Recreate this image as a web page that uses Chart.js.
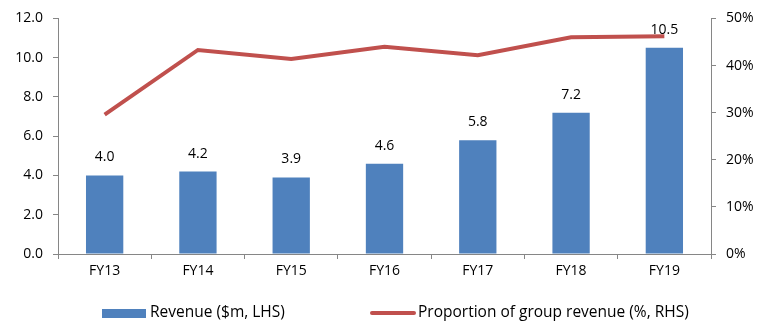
<!DOCTYPE html>
<html>
<head>
<meta charset="utf-8">
<script src="https://cdn.jsdelivr.net/npm/chart.js@4/dist/chart.umd.min.js"></script>
<style>
  html, body { margin: 0; padding: 0; background: #fff; }
  #wrap { width: 761px; height: 321px; position: relative; }
</style>
</head>
<body>
<div id="wrap"><canvas id="c" width="761" height="321"></canvas></div>
<script>
// Fiscal years on the category axis
const years = ['FY13', 'FY14', 'FY15', 'FY16', 'FY17', 'FY18', 'FY19'];
// Revenue, $m (left axis)
const revenue = [4.0, 4.2, 3.9, 4.6, 5.8, 7.2, 10.5];
// Share of group revenue, % (right axis)
const groupShare = [29.6, 43.3, 41.4, 44.0, 42.2, 46.0, 46.2];
// Axis ranges and steps
const leftMax = 12, leftStep = 2;
const rightMax = 50, rightStep = 10;

const FONT = "'Open Sans', 'Noto Sans', sans-serif";
const AXIS_GREY = '#868686';
const BLUE = '#4F81BD';
const RED = '#C0504D';

// Value labels above each bar
const barLabels = {
  id: 'barLabels',
  afterDatasetsDraw(chart) {
    const ctx = chart.ctx;
    const meta = chart.getDatasetMeta(0);
    ctx.save();
    ctx.font = '14px ' + FONT;
    ctx.fillStyle = '#000';
    ctx.textAlign = 'center';
    ctx.textBaseline = 'middle';
    meta.data.forEach((bar, i) => {
      ctx.fillText(revenue[i].toFixed(1), bar.x, bar.y - 18);
    });
    ctx.restore();
  }
};

// Legend row beneath the axis
const bottomLegend = {
  id: 'bottomLegend',
  afterDraw(chart) {
    const ctx = chart.ctx;
    const y = 313;
    ctx.save();
    ctx.font = '15.5px ' + FONT;
    ctx.fillStyle = '#000';
    ctx.textBaseline = 'middle';
    ctx.textAlign = 'left';
    const ds = chart.data.datasets;
    // bar entry
    ctx.fillStyle = ds[0].backgroundColor;
    ctx.fillRect(102, y - 4, 44, 9);
    ctx.fillStyle = '#000';
    ctx.fillText(ds[0].label, 150, y);
    // line entry
    ctx.strokeStyle = ds[1].borderColor;
    ctx.lineWidth = 4;
    ctx.lineCap = 'round';
    ctx.beginPath();
    ctx.moveTo(372, y);
    ctx.lineTo(414, y);
    ctx.stroke();
    ctx.fillText(ds[1].label, 418, y);
    ctx.restore();
  }
};

new Chart(document.getElementById('c'), {
  data: {
    labels: years,
    datasets: [
      {
        type: 'bar',
        label: 'Revenue ($m, LHS)',
        data: revenue,
        yAxisID: 'yL',
        backgroundColor: BLUE,
        borderWidth: 0,
        categoryPercentage: 1.0,
        barPercentage: 0.4,
        order: 1
      },
      {
        type: 'line',
        label: 'Proportion of group revenue (%, RHS)',
        data: groupShare,
        yAxisID: 'yR',
        borderColor: RED,
        backgroundColor: RED,
        borderWidth: 4,
        pointRadius: 0,
        tension: 0,
        order: 0
      }
    ]
  },
  options: {
    responsive: false,
    animation: false,
    devicePixelRatio: 1,
    layout: { padding: { top: 18, bottom: 0, left: 0, right: 0 } },
    plugins: {
      legend: { display: false },
      tooltip: { enabled: false }
    },
    scales: {
      x: {
        offset: true,
        grid: {
          offset: true,
          drawOnChartArea: false,
          drawTicks: true,
          tickLength: 5,
          color: AXIS_GREY
        },
        border: { color: AXIS_GREY, width: 1 },
        ticks: { color: '#000', font: { family: FONT, size: 14 }, padding: 4, maxRotation: 0 },
        afterFit(s) { s.height = 67; }
      },
      yL: {
        position: 'left',
        min: 0, max: leftMax,
        ticks: {
          stepSize: leftStep,
          color: '#000',
          font: { family: FONT, size: 14 },
          padding: 10,
          callback: v => v.toFixed(1)
        },
        grid: { drawOnChartArea: false, tickLength: 5, color: AXIS_GREY },
        border: { color: AXIS_GREY, width: 1 },
        afterFit(s) { s.width = 58; }
      },
      yR: {
        position: 'right',
        min: 0, max: rightMax,
        ticks: {
          stepSize: rightStep,
          color: '#000',
          font: { family: FONT, size: 14 },
          padding: 10,
          callback: v => v + '%'
        },
        grid: { drawOnChartArea: false, tickLength: 5, color: AXIS_GREY },
        border: { color: AXIS_GREY, width: 1 },
        afterFit(s) { s.width = 50; }
      }
    }
  },
  plugins: [barLabels, bottomLegend]
});
</script>
</body>
</html>
